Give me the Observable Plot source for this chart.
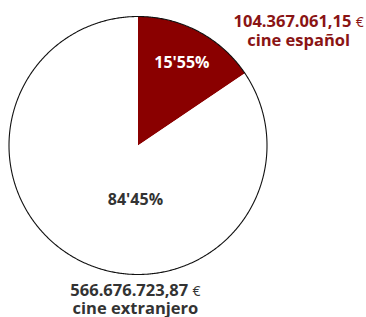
<!DOCTYPE html>
<html>
<head>
<meta charset="utf-8">
<script src="https://cdn.jsdelivr.net/npm/d3@7"></script>
<script src="https://cdn.jsdelivr.net/npm/@observablehq/plot@0.6"></script>
<style>
  html, body { margin: 0; padding: 0; background: #fff; }
  #chart svg { display: block; }
</style>
</head>
<body>
<div id="chart"></div>
<script>
// ---- data ----
const categories = ["cine español", "cine extranjero"];
const amounts = [104367061.15, 566676723.87];
const percentLabels = ["15'55%", "84'45%"];

// ---- layout (not data) ----
const sliceFill = ["#8a0000", "#ffffff"];
const pctColor = ["#ffffff", "#333333"];
const amountColor = ["#8a1414", "#333333"];
// label anchor points in unit-circle coordinates
const pctPos = [[0.34, 0.64], [-0.02, -0.42]];
const amountPos = [[1.245, 0.89], [-0.02, -1.19]];

const locale = d3.formatLocale({decimal: ",", thousands: ".", grouping: [3], currency: ["", " €"]});
const fmt = locale.format(",.2f");

const pie = d3.pie().sort(null).value(d => d.value).startAngle(0).endAngle(2 * Math.PI);
const rows = categories.map((c, i) => ({cat: c, value: amounts[i], i}));
const arcs = pie(rows);

// polygon points for each slice (centre + arc samples)
const slicePts = [];
for (const a of arcs) {
  slicePts.push({i: a.data.i, x: 0, y: 0});
  const n = Math.max(2, Math.ceil((a.endAngle - a.startAngle) / 0.005));
  for (let k = 0; k <= n; k++) {
    const t = a.startAngle + (a.endAngle - a.startAngle) * k / n;
    slicePts.push({i: a.data.i, x: Math.sin(t), y: Math.cos(t)});
  }
}
const circlePts = d3.range(0, 721).map(k => {
  const t = k / 720 * 2 * Math.PI;
  return {x: Math.sin(t), y: Math.cos(t)};
});

const pctData = rows.map((r, i) => ({x: pctPos[i][0], y: pctPos[i][1], text: percentLabels[i], color: pctColor[i]}));
const amtData = rows.map((r, i) => ({x: amountPos[i][0], y: amountPos[i][1], text: fmt(r.value) + " €\n" + r.cat, color: amountColor[i]}));

const cx = 137.5, cy = 145, R = 129;
const chart = Plot.plot({
  width: 366,
  height: 317,
  margin: 0,
  style: {fontFamily: "'Open Sans', Lato, sans-serif", background: "#fff"},
  x: {domain: [-1, 1], range: [cx - R, cx + R], axis: null},
  y: {domain: [-1, 1], range: [cy + R, cy - R], axis: null},
  marks: [
    Plot.line(slicePts, {x: "x", y: "y", z: "i", fill: d => sliceFill[d.i], stroke: "none", curve: "linear"}),
    Plot.line(circlePts, {x: "x", y: "y", stroke: "#111", strokeWidth: 1.1}),
    Plot.text(pctData, {x: "x", y: "y", text: "text", fill: d => d.color, fontSize: 16, fontWeight: "bold"}),
    Plot.text(amtData, {x: "x", y: "y", text: "text", fill: d => d.color, fontSize: 16.5, fontWeight: "bold", lineHeight: 1.12})
  ]
});
// make the euro sign regular weight
d3.select(chart).selectAll("tspan").each(function() {
  const t = this.textContent;
  if (t.endsWith(" €")) {
    this.textContent = t.slice(0, -1);
    d3.select(this).append("tspan").attr("font-weight", "normal").attr("font-size", 14).text("€");
  }
});
document.getElementById("chart").appendChild(chart);
</script>
</body>
</html>
